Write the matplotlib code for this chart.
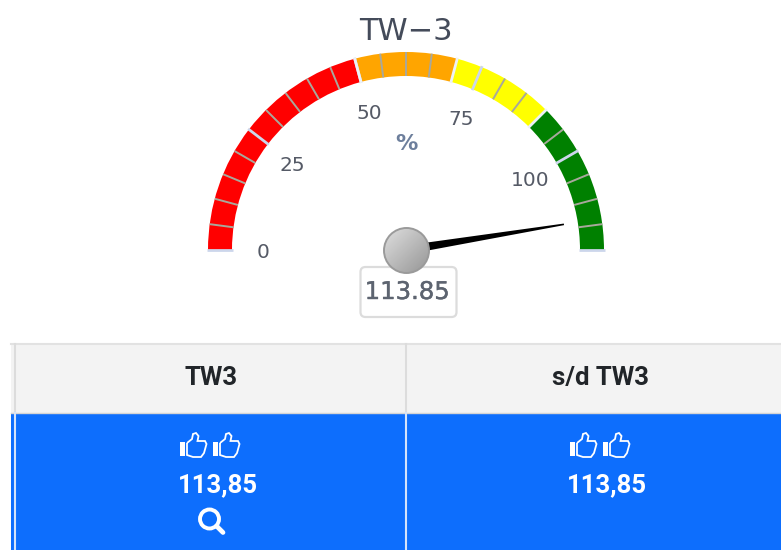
import matplotlib.pyplot as plt
import matplotlib.patheffects as pe
import numpy as np
from matplotlib.patches import Circle, FancyBboxPatch, PathPatch, Rectangle
from matplotlib.path import Path

# gauge data
title = "TW\u22123"
unit = "%"
value = 113.85
value_label = "113.85"
scale_max = 120
band_starts = [0, 50, 70, 90]
band_ends = [50, 70, 90, 120]
band_colors = ["#ff0000", "#ffa500", "#ffff00", "#008000"]
major_ticks = [0, 25, 50, 75, 100, 120]
minor_ticks = [5, 10, 15, 20, 30, 35, 40, 45, 55, 60, 65, 80, 85, 95, 105, 110, 115]
tick_labels = [0, 25, 50, 75, 100]

# table data
headers = ["TW3", "s/d TW3"]
cell_values = ["113,85", "113,85"]

W, H = 781, 550
CX, CY, R = 406, 250, 200


def theta(v):
    return np.deg2rad(np.asarray(v, dtype=float) * 180 / scale_max)


fig = plt.figure(figsize=(W / 100, H / 100), dpi=100, facecolor="white")

# polar axes for the dial
pol = fig.add_axes(
    [(CX - R) / W, (H - CY - R) / H, 2 * R / W, 2 * R / H], projection="polar"
)
pol.set_theta_zero_location("W")
pol.set_theta_direction(-1)
pol.set_rlim(0, R)
pol.set_axis_off()

for start, end, color in zip(band_starts, band_ends, band_colors):
    pol.bar(
        theta(start),
        24,
        width=theta(end) - theta(start),
        bottom=174,
        align="edge",
        color=color,
        linewidth=0,
    )
for v in minor_ticks:
    pol.plot([theta(v)] * 2, [174, 198], color="#a8a89c", lw=1.4, solid_capstyle="butt")
for v in major_ticks:
    pol.plot([theta(v)] * 2, [173, 199], color="#ccd6eb", lw=2, solid_capstyle="butt")
for v in band_starts[1:]:
    pol.plot([theta(v)] * 2, [173, 199], color="#eef1f6", lw=2, solid_capstyle="butt")

for v in tick_labels:
    pol.annotate(
        str(v), (theta(v), 143), xytext=(0, -1.5), textcoords="offset points",
        ha="center", va="center", fontsize=14.5, color="#555a66",
    )

# needle
tip = theta(value)
pol.fill(
    [tip - np.pi / 2, tip - 0.005, tip + 0.005, tip + np.pi / 2],
    [4.5, 160, 160, 4.5],
    color="black",
    linewidth=0,
    zorder=5,
)
pol.set_rlim(0, R)

# pixel axes for everything else
ax = fig.add_axes([0, 0, 1, 1], zorder=3)
ax.patch.set_alpha(0)
ax.axis("off")

ax.text(CX, 31, title, ha="center", va="center", fontsize=22, color="#444b5a")
ax.text(CX, 144, unit, ha="center", va="center", fontsize=16, color="#6d7f9c", fontweight="bold")

# value box and pivot
ax.add_patch(
    FancyBboxPatch(
        (360.5, 267), 96, 50, boxstyle="round,pad=0,rounding_size=5",
        fc="white", ec="#dcdcdc", lw=1.6, zorder=2,
    )
)
ax.text(407, 292, value_label, ha="center", va="center", fontsize=17.5, color="#5d6470",
        zorder=3, path_effects=[pe.withStroke(linewidth=0.3, foreground="#5d6470")])

grad = np.linspace(0, 1, 64)
gx, gy = np.meshgrid(grad, grad)
# colours run light (top left) to darker (bottom right)
img = ax.imshow(
    1 - (gx + gy) / 2,
    extent=(383, 430, 274, 227),
    cmap="gray",
    vmin=-1.93,
    vmax=1.4,
    zorder=4,
    aspect="auto",
)
img.set_clip_path(Circle((406.5, 250.5), 22.5, transform=ax.transData))
ax.add_patch(Circle((406.5, 250.5), 22.5, fc="none", ec="#9a9a9a", lw=1.4, zorder=5))

# table
ax.add_patch(Rectangle((11, 344), 770, 69, fc="#f3f3f3", ec="none"))
ax.add_patch(Rectangle((11, 413), 770, 137, fc="#0d6efd", ec="none"))
ax.plot([11, 781], [344, 344], color="#e2e2e2", lw=1.5)
ax.plot([11, 781], [413, 413], color="#d4d4d4", lw=1)
ax.plot([405.5, 405.5], [344, 413], color="#dcdcdc", lw=1.5)
ax.plot([405.5, 405.5], [413, 550], color="#d5e3fa", lw=1.5)
ax.plot([14.5, 14.5], [344, 413], color="#dcdcdc", lw=1.5)
ax.plot([14.5, 14.5], [413, 550], color="#d5e3fa", lw=1.5)

header_x = [211, 600]
value_x = [218, 607]
for hx, vx, header, cell in zip(header_x, value_x, headers, cell_values):
    ax.text(hx, 378, header, ha="center", va="center", fontsize=18.5, color="#212529",
            family="Roboto", fontweight="bold")
    ax.text(vx, 485, cell, ha="center", va="center", fontsize=18.5, color="white",
            family="Roboto", fontweight="bold")


def thumb(x0, y0):
    # outline thumbs-up icon, x0, y0 is the bottom left corner of the bar
    ax.add_patch(Rectangle((x0, y0 - 14), 5, 14, fc="white", ec="none"))
    verts = [
        (x0 + 7, y0 - 13), (x0 + 12, y0 - 17), (x0 + 13, y0 - 22), (x0 + 16, y0 - 23),
        (x0 + 18.5, y0 - 20), (x0 + 17.5, y0 - 15), (x0 + 25, y0 - 15), (x0 + 26.5, y0 - 12),
        (x0 + 24, y0 - 3), (x0 + 21, y0 + 1), (x0 + 13, y0 + 1), (x0 + 7, y0 - 1),
        (x0 + 7, y0 - 13),
    ]
    ax.add_patch(PathPatch(Path(verts), fc="none", ec="white", lw=1.3))


for x in (180, 213, 570, 603):
    thumb(x, 456)

# magnifier
ax.add_patch(Circle((209.5, 519), 9.5, fc="none", ec="white", lw=2.8))
ax.plot([216.5, 223], [526, 532.5], color="white", lw=3.4, solid_capstyle="round")

ax.set_xlim(0, W)
ax.set_ylim(H, 0)

fig.savefig("out.png", dpi=100)
